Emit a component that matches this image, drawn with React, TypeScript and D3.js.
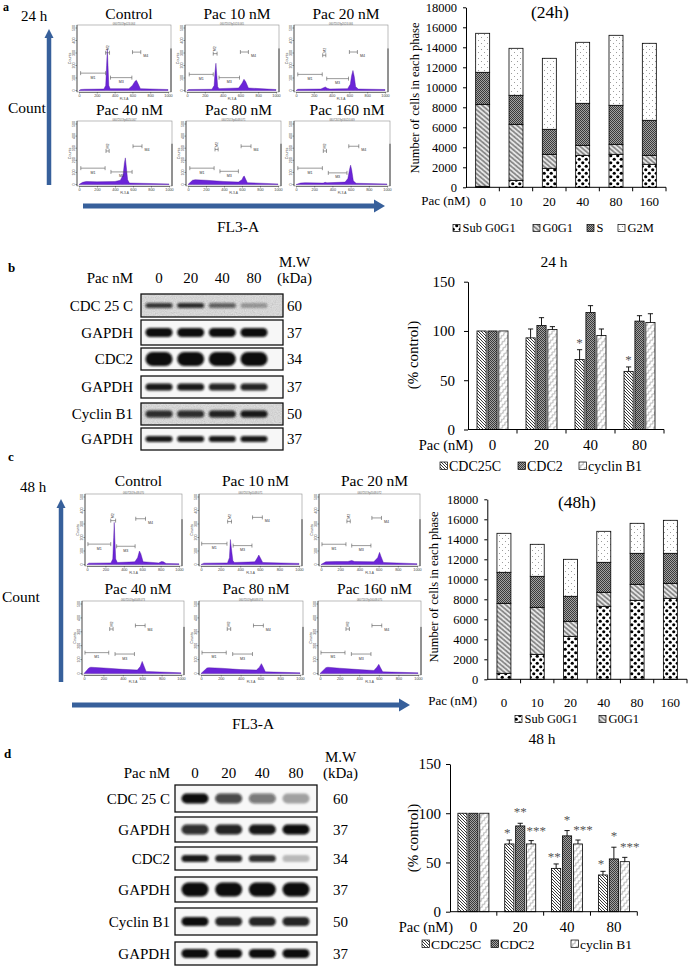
import { useEffect, useRef } from 'react';
import * as d3 from 'd3';

const W = 689;
const H = 968;
const SERIF = "'Liberation Serif', 'Times New Roman', Times, serif";
const SANS = "'Liberation Sans', Arial, sans-serif";
const ARROW = '#37609b';
const PURPLE = '#6b24d8';

// ---------- cell cycle distribution (number of cells in each phase) ----------
const pacDoses = ['0', '10', '20', '40', '80', '160'];
const phaseKeys = ['sub', 'g0g1', 's', 'g2m'];
const phaseNames = ['Sub G0G1', 'G0G1', 'S', 'G2M'];
const phaseFills = ['url(#p-sub)', 'url(#p-wave)', 'url(#p-dark)', 'url(#p-dots)'];

const subG0G1_24h = [100, 700, 1900, 3200, 3300, 2300];
const g0g1_24h = [8200, 5600, 1400, 1000, 1000, 900];
const s_24h = [3200, 2900, 2500, 4200, 3900, 3500];
const g2m_24h = [3900, 4700, 7100, 6100, 7000, 7700];

const subG0G1_48h = [600, 2500, 4300, 7300, 7900, 8100];
const g0g1_48h = [7000, 4700, 1500, 1400, 1600, 1500];
const s_48h = [3100, 3100, 2500, 3000, 3100, 3000];
const g2m_48h = [3900, 3200, 3700, 3100, 3000, 3300];

// ---------- protein levels (% control) ----------
const blotDoses = ['0', '20', '40', '80'];
const proteinKeys = ['cdc25c', 'cdc2', 'cyclin'];
const proteinNames = ['CDC25C', 'CDC2', 'cyclin B1'];
const proteinFills = ['url(#p-hatch)', 'url(#p-dark)', 'url(#p-squig)'];

const cdc25c_24h = [100, 93, 71, 59];
const cdc25cSd_24h = [0, 9, 10, 4.5];
const cdc2_24h = [100, 105.5, 118.7, 110];
const cdc2Sd_24h = [0, 8, 7, 5.5];
const cyclinB1_24h = [100, 101.4, 95.3, 108.5];
const cyclinB1Sd_24h = [0, 3, 6.7, 9];
const cdc25cSig_24h = ['', '', '*', '*'];
const cdc2Sig_24h = ['', '', '', ''];
const cyclinB1Sig_24h = ['', '', '', ''];

const cdc25c_48h = [100, 68.8, 44, 37.3];
const cdc25cSd_48h = [0, 4, 4.5, 3.7];
const cdc2_48h = [100, 87.1, 77, 53.6];
const cdc2Sd_48h = [0, 2.7, 5.4, 11.9];
const cyclinB1_48h = [100, 68.8, 68.8, 50.8];
const cyclinB1Sd_48h = [0, 3.4, 4, 4.4];
const cdc25cSig_48h = ['', '*', '**', '*'];
const cdc2Sig_48h = ['', '**', '*', '*'];
const cyclinB1Sig_48h = ['', '***', '***', '***'];

// ---------- western blots ----------
const blotLabels = ['CDC 25 C', 'GAPDH', 'CDC2', 'GAPDH', 'Cyclin B1', 'GAPDH'];
const blotMW = ['60', '37', '34', '37', '50', '37'];
const bandDensity_24h = [
  [0.8, 0.85, 0.6, 0.3],
  [1, 1, 1, 1],
  [1, 1, 1, 1],
  [0.95, 0.95, 0.9, 0.9],
  [0.85, 0.85, 0.9, 0.95],
  [0.95, 0.95, 0.95, 0.95],
];
const bandDensity_48h = [
  [1, 0.75, 0.55, 0.35],
  [0.85, 0.9, 0.95, 1],
  [0.95, 0.9, 0.85, 0.25],
  [1, 1, 1, 1],
  [1, 0.9, 0.9, 0.9],
  [1, 1, 1, 1],
];

// ---------- flow cytometry histograms: [FL3-A channel, counts] ----------
const flowTitles = ['Control', 'Pac 10 nM', 'Pac 20 nM', 'Pac 40 nM', 'Pac 80 nM', 'Pac 160 nM'];
const fileIds_24h = ['06072019p024.064', '06072019p1024.065', '06072019p2024.066', '06072019p4024.067', '06072019p4048.071', '06072019p16024.069'];
const fileIds_48h = ['06072019c48.070', '06072019p1048.071', '06072019p2048.072', '06072019p4048.073', '06072019p8048.074', '06072019p16048.075'];

const hist24_control = [[0, 0], [20, 8], [60, 10], [280, 12], [300, 40], [310, 200], [318, 330], [326, 200], [335, 40], [350, 15], [560, 15], [600, 40], [630, 75], [645, 82], [660, 60], [690, 15], [1000, 8]];
const hist24_pac10 = [[0, 0], [20, 8], [280, 10], [305, 40], [315, 150], [325, 218], [335, 120], [345, 30], [360, 15], [580, 20], [620, 60], [640, 90], [660, 70], [690, 20], [1000, 8]];
const hist24_pac20 = [[0, 0], [20, 10], [280, 12], [310, 22], [330, 28], [350, 18], [380, 12], [580, 15], [610, 50], [625, 120], [640, 160], [655, 110], [670, 30], [700, 12], [1000, 8]];
const hist24_pac40 = [[0, 0], [40, 18], [80, 25], [200, 22], [400, 25], [460, 35], [490, 80], [505, 180], [515, 220], [525, 150], [540, 40], [560, 12], [1000, 5]];
const hist24_pac80 = [[0, 0], [50, 35], [80, 40], [200, 35], [400, 25], [560, 20], [600, 40], [615, 65], [625, 70], [640, 45], [660, 15], [1000, 5]];
const hist24_pac160 = [[0, 0], [50, 12], [100, 15], [300, 12], [320, 18], [340, 14], [540, 20], [570, 50], [590, 130], [600, 160], [612, 120], [630, 30], [660, 10], [1000, 5]];

const hist48_control = [[0, 0], [20, 10], [260, 12], [280, 40], [290, 200], [296, 312], [302, 200], [312, 40], [330, 15], [520, 20], [550, 50], [570, 100], [585, 80], [610, 20], [780, 12], [810, 22], [830, 20], [860, 8], [1000, 5]];
const hist48_pac10 = [[0, 0], [30, 10], [270, 12], [290, 50], [300, 185], [310, 120], [325, 30], [340, 15], [550, 20], [575, 50], [590, 70], [605, 50], [630, 15], [1000, 8]];
const hist48_pac20 = [[0, 0], [50, 20], [150, 22], [280, 22], [320, 30], [350, 22], [550, 20], [590, 50], [610, 90], [625, 60], [650, 15], [1000, 6]];
const hist48_pac40 = [[0, 0], [50, 40], [70, 45], [200, 40], [400, 30], [550, 25], [580, 50], [600, 87], [615, 60], [640, 15], [1000, 5]];
const hist48_pac80 = [[0, 0], [60, 40], [80, 42], [200, 38], [400, 28], [560, 25], [590, 45], [610, 71], [625, 50], [650, 12], [1000, 5]];
const hist48_pac160 = [[0, 0], [60, 42], [80, 45], [200, 38], [400, 28], [550, 22], [580, 45], [600, 66], [615, 45], [640, 12], [1000, 5]];

// gates: [name, from, to, counts level, label side]
const gates24_control = [['M1', 18, 299, 139, 'below'], ['M2', 299, 343, 302, 'above'], ['M3', 354, 594, 103, 'below'], ['M4', 601, 694, 307, 'right']];
const gates24_pac10 = [['M1', 25, 295, 129, 'below'], ['M2', 295, 338, 295, 'above'], ['M3', 360, 590, 103, 'below'], ['M4', 600, 690, 308, 'right']];
const gates24_pac20 = [['M1', 20, 295, 129, 'below'], ['M2', 300, 335, 282, 'above'], ['M3', 345, 590, 95, 'below'], ['M4', 600, 690, 308, 'right']];
const gates24_pac40 = [['M1', 20, 290, 135, 'below'], ['M2', 300, 335, 277, 'above'], ['M3', 355, 590, 104, 'below'], ['M4', 600, 700, 316, 'right']];
const gates24_pac80 = [['M1', 20, 290, 135, 'below'], ['M2', 300, 335, 290, 'above'], ['M3', 355, 560, 109, 'below'], ['M4', 590, 700, 316, 'right']];
const gates24_pac160 = [['M1', 20, 290, 135, 'below'], ['M2', 300, 335, 277, 'above'], ['M3', 355, 560, 96, 'below'], ['M4', 580, 690, 316, 'right']];

const gates48_control = [['M1', 10, 258, 151, 'below'], ['M2', 258, 311, 325, 'above'], ['M3', 322, 523, 135, 'below'], ['M4', 530, 636, 339, 'right']];
const gates48_pac10 = [['M1', 7, 265, 154, 'below'], ['M2', 272, 311, 318, 'above'], ['M3', 328, 520, 140, 'below'], ['M4', 526, 626, 349, 'right']];
const gates48_pac20 = [['M1', 10, 260, 150, 'below'], ['M2', 270, 305, 320, 'above'], ['M3', 320, 520, 140, 'below'], ['M4', 530, 630, 345, 'right']];
const gates48_pac40 = [['M1', 10, 255, 150, 'below'], ['M2', 265, 300, 320, 'above'], ['M3', 320, 520, 140, 'below'], ['M4', 530, 630, 345, 'right']];
const gates48_pac80 = [['M1', 10, 255, 150, 'below'], ['M2', 265, 300, 320, 'above'], ['M3', 320, 520, 140, 'below'], ['M4', 530, 630, 345, 'right']];
const gates48_pac160 = [['M1', 10, 255, 150, 'below'], ['M2', 265, 300, 320, 'above'], ['M3', 320, 520, 140, 'below'], ['M4', 530, 630, 345, 'right']];

function buildDefs(defs: any) {
  const pat = (id: string, w: number, h: number, bg: string, transform?: string) => {
    const p = defs.append('pattern').attr('id', id).attr('patternUnits', 'userSpaceOnUse')
      .attr('width', w).attr('height', h);
    if (transform) p.attr('patternTransform', transform);
    p.append('rect').attr('width', w).attr('height', h).attr('fill', bg);
    return p;
  };
  const sub = pat('p-sub', 7, 7, '#fff');
  sub.append('circle').attr('cx', 1.75).attr('cy', 1.75).attr('r', 1.6).attr('fill', '#000');
  sub.append('circle').attr('cx', 5.25).attr('cy', 5.25).attr('r', 1.6).attr('fill', '#000');

  const wave = pat('p-wave', 4, 3.5, '#ececec', 'rotate(40)');
  wave.append('path').attr('d', 'M0,0.8 L1,2.7 L2,0.8 L3,2.7 L4,0.8')
    .attr('fill', 'none').attr('stroke', '#505050').attr('stroke-width', 0.7);

  const dark = pat('p-dark', 2, 2, '#a2a2a2');
  dark.append('rect').attr('width', 1).attr('height', 1).attr('fill', '#3a3a3a');
  dark.append('rect').attr('x', 1).attr('y', 1).attr('width', 1).attr('height', 1).attr('fill', '#3a3a3a');

  const dots = pat('p-dots', 6, 6, '#fff');
  dots.append('circle').attr('cx', 1.5).attr('cy', 1.5).attr('r', 0.45).attr('fill', '#333');
  dots.append('circle').attr('cx', 4.5).attr('cy', 4.5).attr('r', 0.45).attr('fill', '#333');

  const hatch = pat('p-hatch', 3, 3, '#fff');
  hatch.append('path').attr('d', 'M0,0 L3,3 M-1,2 L1,4 M2,-1 L4,1')
    .attr('stroke', '#222').attr('stroke-width', 0.9);

  const squig = pat('p-squig', 4, 4.5, '#fff', 'rotate(-50)');
  squig.append('path').attr('d', 'M0,2.2 q1,-1.6 2,0 t2,0')
    .attr('fill', 'none').attr('stroke', '#555').attr('stroke-width', 0.6);

  const blur = defs.append('filter').attr('id', 'blur')
    .attr('x', '-30%').attr('y', '-80%').attr('width', '160%').attr('height', '260%');
  blur.append('feGaussianBlur').attr('stdDeviation', 1.1);

  const grain = defs.append('filter').attr('id', 'grain')
    .attr('x', 0).attr('y', 0).attr('width', 1).attr('height', 1);
  grain.append('feTurbulence').attr('type', 'fractalNoise').attr('baseFrequency', 0.9)
    .attr('numOctaves', 2).attr('seed', 4);
  grain.append('feColorMatrix').attr('type', 'matrix')
    .attr('values', '0.33 0.33 0.33 0 0  0.33 0.33 0.33 0 0  0.33 0.33 0.33 0 0  0 0 0 0 1');
}

function txt(g: any, x: number, y: number, s: string, size: number, anchor = 'start') {
  return g.append('text').attr('x', x).attr('y', y).attr('font-family', SERIF)
    .attr('font-size', size).attr('text-anchor', anchor).attr('fill', '#000').text(s);
}

function drawHistogram(root: any, box: number[], titleY: number, title: string, fileId: string, pts: any, gates: any[]) {
  const [x0, x1, y0, y1] = box;
  const g = root.append('g');
  const x = d3.scaleLinear().domain([0, 1000]).range([x0 + 2, x1 - 3]);
  const y = d3.scaleLinear().domain([0, 500]).range([y1 - 1.5, y0 + 3]);

  g.append('text').attr('x', (x0 + x1) / 2).attr('y', y0 - 0.2).attr('text-anchor', 'middle')
    .attr('font-family', SANS).attr('font-size', 2.6).attr('fill', '#555').text(fileId);
  txt(g, (x0 + x1) / 2 + 5, titleY, title, 15.5, 'middle');

  g.append('rect').attr('x', x0).attr('y', y0).attr('width', x1 - x0).attr('height', y1 - y0)
    .attr('fill', 'none').attr('stroke', '#8f8f8f').attr('stroke-width', 0.6);
  g.append('line').attr('x1', x1).attr('x2', x1).attr('y1', y0 + (y1 - y0) * 0.35).attr('y2', y1)
    .attr('stroke', '#333').attr('stroke-width', 0.9);

  const area = d3.area<any>().x(d => x(d[0])).y0(y(0)).y1(d => y(d[1]));
  g.append('path').datum(pts).attr('d', area).attr('fill', PURPLE)
    .attr('stroke', '#48109e').attr('stroke-width', 0.4);

  // y axis (counts)
  g.append('line').attr('x1', x0).attr('x2', x0).attr('y1', y0).attr('y2', y1)
    .attr('stroke', '#333').attr('stroke-width', 0.7);
  d3.range(0, 501, 100).forEach(t => {
    g.append('line').attr('x1', x0 - 1.5).attr('x2', x0).attr('y1', y(t)).attr('y2', y(t))
      .attr('stroke', '#333').attr('stroke-width', 0.5);
    g.append('text').attr('transform', `translate(${x0 - 2},${y(t)}) rotate(-90)`)
      .attr('text-anchor', 'middle').attr('font-family', SANS).attr('font-size', 3.6)
      .attr('fill', '#444').text(t);
  });
  g.append('text').attr('transform', `translate(${x0 - 6},${(y0 + y1) / 2}) rotate(-90)`)
    .attr('text-anchor', 'middle').attr('font-family', SANS).attr('font-size', 3.6)
    .attr('fill', '#444').text('Counts');

  // x axis (FL3-A)
  const xa = g.append('g').attr('transform', `translate(0,${y1})`)
    .call(d3.axisBottom(x).tickValues(d3.range(0, 1001, 200)).tickFormat(d3.format('d'))
      .tickSize(1.5).tickPadding(1).tickSizeOuter(0));
  xa.select('.domain').attr('stroke', '#333').attr('stroke-width', 0.6);
  xa.selectAll('line').attr('stroke', '#333').attr('stroke-width', 0.5);
  xa.selectAll('text').attr('font-size', 3.8).attr('font-family', SANS).attr('fill', '#444');
  g.append('text').attr('x', (x0 + x1) / 2).attr('y', y1 + 7.8).attr('text-anchor', 'middle')
    .attr('font-family', SANS).attr('font-size', 3.2).attr('fill', '#444').text('FL3-A');

  // gates
  gates.forEach(([name, a, b, c, side]) => {
    const yy = y(c);
    g.append('path')
      .attr('d', `M${x(a)},${yy - 2}V${yy + 2}M${x(a)},${yy}H${x(b)}M${x(b)},${yy - 2}V${yy + 2}`)
      .attr('fill', 'none').attr('stroke', '#555').attr('stroke-width', 0.6);
    const lab = g.append('text').attr('font-family', SANS).attr('font-size', 3.6).attr('fill', '#333').text(name);
    if (side === 'below') lab.attr('x', (x(a) + x(b)) / 2).attr('y', yy + 5.5).attr('text-anchor', 'middle');
    else if (side === 'right') lab.attr('x', x(b) + 2.5).attr('y', yy + 5);
    else lab.attr('transform', `translate(${(x(a) + x(b)) / 2 + 1.3},${yy - 2.5}) rotate(-90)`);
  });
}

function hArrow(g: any, xa: number, xb: number, y: number) {
  g.append('line').attr('x1', xa).attr('x2', xb - 10).attr('y1', y).attr('y2', y)
    .attr('stroke', ARROW).attr('stroke-width', 5);
  g.append('path').attr('d', `M${xb - 11},${y - 6.5}L${xb},${y}L${xb - 11},${y + 6.5}Z`).attr('fill', ARROW);
}

function vArrow(g: any, x: number, yTop: number, yb: number) {
  g.append('line').attr('x1', x).attr('x2', x).attr('y1', yb).attr('y2', yTop + 8)
    .attr('stroke', ARROW).attr('stroke-width', 4.5);
  g.append('path').attr('d', `M${x - 4.5},${yTop + 9}L${x},${yTop}L${x + 4.5},${yTop + 9}Z`).attr('fill', ARROW);
}

function drawStacked(svg: any, o: any) {
  const g = svg.append('g');
  const rows = pacDoses.map((dose, i) => {
    const r: any = { dose };
    phaseKeys.forEach((k, j) => { r[k] = o.series[j][i]; });
    return r;
  });
  const x = d3.scaleBand().domain(pacDoses).range([o.x0, o.x1]).paddingInner(0.58).paddingOuter(0.29);
  const y = d3.scaleLinear().domain([0, 18000]).range([o.yb, o.yt]);
  const stacked = d3.stack<any>().keys(phaseKeys)(rows);

  g.selectAll('g.layer').data(stacked).join('g').attr('class', 'layer')
    .attr('fill', (_d: any, i: number) => phaseFills[i])
    .selectAll('rect').data((d: any) => d).join('rect')
    .attr('x', (d: any) => x(d.data.dose))
    .attr('width', x.bandwidth())
    .attr('y', (d: any) => y(d[1]))
    .attr('height', (d: any) => y(d[0]) - y(d[1]))
    .attr('stroke', '#000').attr('stroke-width', 0.8);

  const ya = g.append('g').attr('transform', `translate(${o.x0},0)`)
    .call(d3.axisLeft(y).tickValues(d3.range(0, 18001, 2000)).tickFormat(d3.format('d'))
      .tickSize(3).tickSizeOuter(0).tickPadding(6));
  ya.select('.domain').attr('stroke-width', 1);
  ya.selectAll('text').attr('font-family', SERIF).attr('font-size', 12.5).attr('fill', '#000');

  const xa = g.append('g').attr('transform', `translate(0,${o.yb})`)
    .call(d3.axisBottom(x).tickSize(0).tickPadding(o.tickPad));
  xa.select('.domain').remove();
  xa.selectAll('text').attr('font-family', SERIF).attr('font-size', 13).attr('fill', '#000');
  g.append('line').attr('x1', o.x0).attr('x2', o.x1).attr('y1', o.yb).attr('y2', o.yb)
    .attr('stroke', '#000').attr('stroke-width', 1);
  d3.range(1, pacDoses.length + 1).forEach(i => {
    const bx = o.x0 + i * x.step();
    g.append('line').attr('x1', bx).attr('x2', bx).attr('y1', o.yb).attr('y2', o.yb + 4)
      .attr('stroke', '#000').attr('stroke-width', 1);
  });
  txt(g, o.pacX, o.pacY, 'Pac (nM)', 13, 'end');
  txt(g, o.titleX, o.titleY, o.title, 17.5, 'middle');
  g.append('text').attr('transform', `translate(${o.labelX},${o.labelY}) rotate(-90)`)
    .attr('text-anchor', 'middle').attr('font-family', SERIF).attr('font-size', 12.5)
    .text('Number of cells in each phase');

  o.legendX.forEach((lx: number, i: number) => {
    g.append('rect').attr('x', lx).attr('y', o.legendY - 3.5).attr('width', 7).attr('height', 7)
      .attr('fill', phaseFills[i]).attr('stroke', '#000').attr('stroke-width', 0.7);
    txt(g, lx + 9.5, o.legendY + 4.3, phaseNames[i], 12.5);
  });
}

function drawGrouped(svg: any, o: any) {
  const g = svg.append('g');
  const x = d3.scaleBand().domain(blotDoses).range([o.x0, o.x1]);
  const xi = d3.scaleBand().domain(proteinKeys).range([-15.5, 15.5]).paddingInner(0.16);
  const y = d3.scaleLinear().domain([0, 150]).range([o.yb, o.y150]);

  proteinKeys.forEach((k, j) => {
    const layer = g.append('g');
    blotDoses.forEach((dose, i) => {
      const v = o.means[j][i];
      const sd = o.sds[j][i];
      const bx = (x(dose) as number) + x.bandwidth() / 2 + (xi(k) as number);
      const cx = bx + xi.bandwidth() / 2;
      layer.append('rect').attr('x', bx).attr('width', xi.bandwidth())
        .attr('y', y(v)).attr('height', y(0) - y(v))
        .attr('fill', proteinFills[j]).attr('stroke', '#000').attr('stroke-width', 0.8);
      if (sd > 0) {
        const yt = y(v + sd);
        layer.append('path').attr('d', `M${cx},${y(v)}V${yt}M${cx - 2.6},${yt}H${cx + 2.6}`)
          .attr('fill', 'none').attr('stroke', '#000').attr('stroke-width', 0.9);
      }
      const sig = o.sig[j][i];
      if (sig) {
        layer.append('text').attr('x', cx + o.sigDx[j]).attr('y', y(v + sd) + o.sigDy[j])
          .attr('text-anchor', 'middle').attr('font-family', SERIF).attr('font-size', 13)
          .attr('fill', '#555').text(sig);
      }
    });
  });

  const ya = g.append('g').attr('transform', `translate(${o.x0},0)`)
    .call(d3.axisLeft(y).tickValues([0, 50, 100, 150]).tickSize(4).tickSizeOuter(0).tickPadding(o.yPad));
  ya.select('.domain').attr('stroke-width', 1);
  ya.selectAll('text').attr('font-family', SERIF).attr('font-size', 15).attr('fill', '#000');

  const xa = g.append('g').attr('transform', `translate(0,${o.yb})`)
    .call(d3.axisBottom(x).tickSize(0).tickPadding(10));
  xa.select('.domain').remove();
  xa.selectAll('text').attr('font-family', SERIF).attr('font-size', 15).attr('fill', '#000');
  g.append('line').attr('x1', o.x0).attr('x2', o.x1).attr('y1', o.yb).attr('y2', o.yb)
    .attr('stroke', '#000').attr('stroke-width', 1);
  d3.range(1, blotDoses.length + 1).forEach(i => {
    const bx = o.x0 + i * x.step();
    g.append('line').attr('x1', bx).attr('x2', bx).attr('y1', o.yb).attr('y2', o.yb + 4)
      .attr('stroke', '#000').attr('stroke-width', 1);
  });
  txt(g, o.pacX, o.yb + 20.5, 'Pac (nM)', 14.5, 'end');
  txt(g, o.titleX, o.titleY, o.title, 15.5, 'middle');
  g.append('text').attr('transform', `translate(${o.labelX},${o.labelY}) rotate(-90)`)
    .attr('text-anchor', 'middle').attr('font-family', SERIF).attr('font-size', 15)
    .text('(% control)');

  o.legendX.forEach((lx: number, i: number) => {
    g.append('rect').attr('x', lx).attr('y', o.legendY - 4).attr('width', 7.5).attr('height', 7.5)
      .attr('fill', proteinFills[i]).attr('stroke', '#000').attr('stroke-width', 0.7);
    txt(g, lx + 9, o.legendY + 5, proteinNames[i], o.legendSize);
  });
}

function drawBlots(svg: any, o: any) {
  const g = svg.append('g');
  const lane = d3.scalePoint().domain(blotDoses).range(o.lanes);
  txt(g, o.labelX, o.headY, 'Pac nM', 15, 'end');
  blotDoses.forEach(d => txt(g, lane(d) as number, o.headY, d, 15, 'middle'));
  txt(g, o.mwX, o.headY - 16, 'M.W', 15);
  txt(g, o.mwX - 2, o.headY, '(kDa)', 15);

  blotLabels.forEach((label, r) => {
    const [ya, yb] = o.rows[r];
    const cy = (ya + yb) / 2;
    g.append('rect').attr('x', o.x0).attr('y', ya).attr('width', o.x1 - o.x0).attr('height', yb - ya)
      .attr('fill', o.noisy[r] ? '#e4e4e4' : '#f7f7f7');
    if (o.noisy[r]) {
      g.append('rect').attr('x', o.x0).attr('y', ya).attr('width', o.x1 - o.x0).attr('height', yb - ya)
        .attr('filter', 'url(#grain)').attr('opacity', 0.35);
    }
    blotDoses.forEach((d, i) => {
      const k = o.bands[r][i];
      const bh = o.bandH[r];
      g.append('rect').attr('x', (lane(d) as number) - o.bandW / 2).attr('y', cy - bh / 2)
        .attr('width', o.bandW).attr('height', bh).attr('rx', bh / 2)
        .attr('fill', '#0d0d0d').attr('fill-opacity', k).attr('filter', 'url(#blur)');
    });
    g.append('rect').attr('x', o.x0).attr('y', ya).attr('width', o.x1 - o.x0).attr('height', yb - ya)
      .attr('fill', 'none').attr('stroke', '#111').attr('stroke-width', 1.3);
    txt(g, o.labelX, cy + 5, label, 15, 'end');
    txt(g, o.mwX + 8, cy + 5, blotMW[r], 15);
  });
}

export default function App() {
  const ref = useRef<SVGSVGElement>(null);

  useEffect(() => {
    if (!ref.current) return;
    const svg = d3.select(ref.current);
    svg.selectAll('*').remove();
    svg.append('rect').attr('width', W).attr('height', H).attr('fill', '#fff');
    buildDefs(svg.append('defs'));

    // panel letters
    [['a', 3, 11, 12], ['b', 8, 272, 13], ['c', 8, 461, 13], ['d', 4, 758, 13]].forEach(([t, x, y, s]) => {
      svg.append('text').attr('x', x).attr('y', y).attr('font-family', SERIF)
        .attr('font-weight', 'bold').attr('font-size', s).text(t);
    });

    // ---- a: flow cytometry 24 h ----
    const fa = svg.append('g');
    txt(fa, 21, 21, '24 h', 15);
    txt(fa, 8, 113, 'Count', 15.5);
    vArrow(fa, 49, 29, 185);
    hArrow(fa, 83, 385, 206);
    txt(fa, 238, 232, 'FL3-A', 15.5, 'middle');
    const hists24 = [hist24_control, hist24_pac10, hist24_pac20, hist24_pac40, hist24_pac80, hist24_pac160];
    const gates24 = [gates24_control, gates24_pac10, gates24_pac20, gates24_pac40, gates24_pac80, gates24_pac160];
    const boxes24 = [[77, 171, 25, 92], [185, 279, 25, 92], [294, 388, 25, 92], [77, 172, 121, 186], [186, 281, 121, 186], [294, 390, 121, 186]];
    hists24.forEach((h, i) => drawHistogram(fa, boxes24[i], i < 3 ? 18.5 : 115, flowTitles[i], fileIds_24h[i], h, gates24[i]));

    drawStacked(svg, {
      series: [subG0G1_24h, g0g1_24h, s_24h, g2m_24h],
      x0: 466, x1: 666, yb: 187.3, yt: 7.3, tickPad: 9.5,
      pacX: 470, pacY: 205, title: '(24h)', titleX: 550, titleY: 18,
      labelX: 419, labelY: 98, legendY: 228, legendX: [453, 533, 587, 618],
    });

    // ---- b: western blot 24 h ----
    drawBlots(svg, {
      x0: 141, x1: 283, lanes: [159, 254], labelX: 133, mwX: 279, headY: 283,
      rows: [[294, 317], [320, 345], [348, 370], [376, 398], [403, 425], [428, 450]],
      bands: bandDensity_24h, bandH: [5, 9, 14, 7, 7, 6], bandW: 27,
      noisy: [true, false, false, false, true, false],
    });
    drawGrouped(svg, {
      means: [cdc25c_24h, cdc2_24h, cyclinB1_24h],
      sds: [cdc25cSd_24h, cdc2Sd_24h, cyclinB1Sd_24h],
      sig: [cdc25cSig_24h, cdc2Sig_24h, cyclinB1Sig_24h],
      sigDx: [0, 0, 0], sigDy: [-3, -3, -3],
      x0: 468, x1: 664, yb: 429.5, y150: 281.7, yPad: 9,
      pacX: 473, title: '24 h', titleX: 554, titleY: 267,
      labelX: 418, labelY: 355, legendY: 466, legendX: [440, 518, 579], legendSize: 14,
    });

    // ---- c: flow cytometry 48 h ----
    const fc = svg.append('g');
    txt(fc, 20, 492, '48 h', 15);
    txt(fc, 2, 602, 'Count', 15.5);
    vArrow(fc, 61, 499, 682);
    hArrow(fc, 72, 410, 705);
    txt(fc, 253, 729, 'FL3-A', 15.5, 'middle');
    const hists48 = [hist48_control, hist48_pac10, hist48_pac20, hist48_pac40, hist48_pac80, hist48_pac160];
    const gates48 = [gates48_control, gates48_pac10, gates48_pac20, gates48_pac40, gates48_pac80, gates48_pac160];
    const boxes48 = [[85, 182, 494, 566], [199, 302, 494, 566], [319, 420, 494, 566], [82, 184, 601, 675], [199, 303, 601, 675], [318, 421, 601, 675]];
    hists48.forEach((h, i) => drawHistogram(fc, boxes48[i], i < 3 ? 486 : 594, flowTitles[i], fileIds_48h[i], h, gates48[i]));

    drawStacked(svg, {
      series: [subG0G1_48h, g0g1_48h, s_48h, g2m_48h],
      x0: 487.3, x1: 687, yb: 679.3, yt: 499.3, tickPad: 18.5,
      pacX: 477, pacY: 705, title: '(48h)', titleX: 577, titleY: 508,
      labelX: 438, labelY: 587, legendY: 719, legendX: [515, 599],
    });

    // ---- d: western blot 48 h ----
    drawBlots(svg, {
      x0: 175, x1: 317, lanes: [195, 296], labelX: 170, mwX: 325, headY: 778,
      rows: [[785, 812], [817, 842], [847, 870], [877, 902], [908, 935], [942, 965]],
      bands: bandDensity_48h, bandH: [10, 10, 7, 14, 9, 9], bandW: 27,
      noisy: [false, false, false, false, false, false],
    });
    drawGrouped(svg, {
      means: [cdc25c_48h, cdc2_48h, cyclinB1_48h],
      sds: [cdc25cSd_48h, cdc2Sd_48h, cyclinB1Sd_48h],
      sig: [cdc25cSig_48h, cdc2Sig_48h, cyclinB1Sig_48h],
      sigDx: [-2, 0, 5], sigDy: [-3, -7, -6],
      x0: 450, x1: 637.3, yb: 911.7, y150: 764, yPad: 5,
      pacX: 453, title: '48 h', titleX: 542, titleY: 744,
      labelX: 418, labelY: 838, legendY: 944, legendX: [422, 491, 571], legendSize: 13.5,
    });
  }, []);

  return (
    <div style={{ position: 'absolute', left: 0, top: 0, background: '#fff' }}>
      <svg ref={ref} width={W} height={H} style={{ display: 'block' }} />
    </div>
  );
}
